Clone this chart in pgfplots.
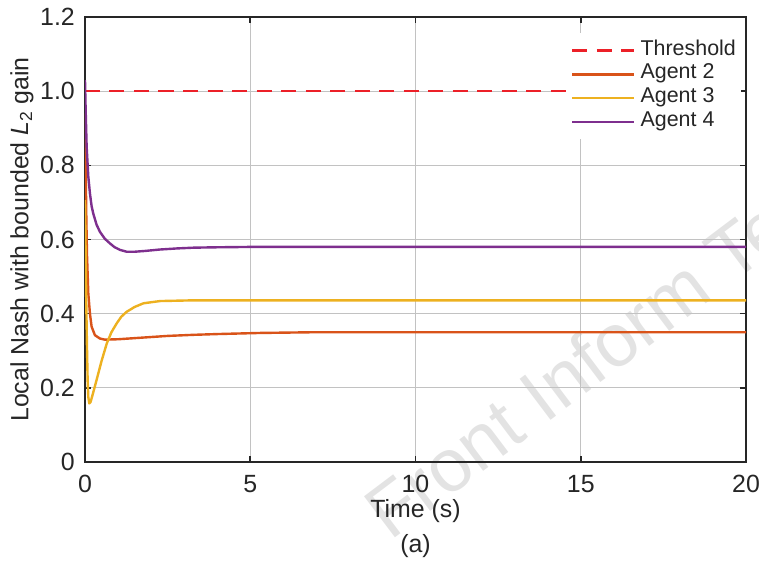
\documentclass[border=0pt]{standalone}
\usepackage{fontspec}
\setmainfont{Liberation Sans}
\usepackage{pgfplots}
\pgfplotsset{compat=1.18}

\definecolor{agenttwo}{rgb}{0.850,0.325,0.098}
\definecolor{agentthree}{rgb}{0.929,0.694,0.125}
\definecolor{agentfour}{rgb}{0.494,0.184,0.556}
\definecolor{thresh}{RGB}{236,32,40}
\definecolor{axcol}{RGB}{38,38,38}

\begin{document}
\begin{tikzpicture}
% overall canvas; the axis box has its lower-left corner at the origin
\path[use as bounding box] (-85bp,-101bp) rectangle (674bp,462bp);
% faint publisher mark behind the plot
\node[text=black!11, rotate=37, anchor=base west, inner sep=0pt,
      font=\fontsize{75}{80}\selectfont] at (305bp,-80bp)
      {Front Inform Technol Electron Eng};
\begin{axis}[
  name=ax,
  at={(0,0)}, anchor=south west, scale only axis,
  width=661bp, height=445bp,
  xmin=0, xmax=20, ymin=0, ymax=1.2,
  xtick={0,5,10,15,20}, xticklabels={0,5,10,15,20},
  ytick={0,0.2,0.4,0.6,0.8,1.0,1.2},
  yticklabels={0,0.2,0.4,0.6,0.8,1.0,1.2},
  /pgf/number format/assume math mode=true,
  grid=major, grid style={black!24, line width=1.1bp},
  axis line style={axcol, line width=2bp},
  tick align=inside, major tick length=6bp,
  tick style={axcol, line width=1.6bp},
  ticklabel style={font=\fontsize{25}{30}\selectfont, text=axcol, inner sep=0pt},
  xticklabel style={yshift=-13bp},
  yticklabel style={xshift=-10bp},
  xlabel={Time (s)},
  xlabel style={at={(rel axis cs:0.5,0)}, anchor=center, yshift=-49bp,
                inner sep=0pt, font=\fontsize{25}{30}\selectfont, text=axcol},
  ylabel={Local Nash with bounded \textit{L}\textsubscript{2} gain},
  ylabel style={at={(rel axis cs:-0.0953,0.5)}, anchor=center,
                inner sep=0pt, font=\fontsize{25}{30}\selectfont, text=axcol},
  legend style={at={(rel axis cs:0,1)}, anchor=north west,
                xshift=481bp, yshift=-16bp,
                draw=none, fill=white, inner xsep=5bp, inner ysep=6bp,
                font=\fontsize{21.5}{24}\selectfont, text=axcol,
                column sep=5bp, row sep=0.7bp,
                nodes={inner sep=0pt, text height=16bp, text depth=7bp}},
  legend cell align=left,
  legend image code/.code={\draw[#1] (0bp,0bp) -- (62bp,0bp);},
]
\addplot[thresh, line width=2.4bp, dash pattern=on 15bp off 9.5bp]
  coordinates {(0,1) (20,1)};
\addlegendentry{Threshold}

\addplot[agenttwo, line width=2.4bp, line join=round] coordinates {
  (0,0.94) (0.02,0.80) (0.04,0.66) (0.06,0.56) (0.1,0.455) (0.15,0.40)
  (0.2,0.365) (0.3,0.342) (0.45,0.333) (0.6,0.330) (1.0,0.331) (1.5,0.334)
  (2.5,0.340) (3.3,0.343) (4,0.345) (5.3,0.348) (7,0.350) (10,0.350) (20,0.350)
};
\addlegendentry{Agent 2}

\addplot[agentthree, line width=2.4bp, line join=round] coordinates {
  (0,0.706) (0.02,0.56) (0.04,0.42) (0.06,0.31) (0.08,0.22) (0.1,0.175)
  (0.13,0.158) (0.17,0.162) (0.22,0.178) (0.35,0.221) (0.5,0.272) (0.66,0.320)
  (0.8,0.350) (0.96,0.374) (1.1,0.392) (1.26,0.405) (1.5,0.418) (1.77,0.428)
  (2.27,0.434) (3.3,0.436) (5,0.436) (20,0.436)
};
\addlegendentry{Agent 3}

\addplot[agentfour, line width=2.4bp, line join=round] coordinates {
  (0,1.03) (0.02,0.95) (0.05,0.85) (0.1,0.77) (0.15,0.724) (0.2,0.69)
  (0.25,0.670) (0.35,0.640) (0.45,0.621) (0.6,0.602) (0.76,0.589) (0.9,0.579)
  (1.06,0.572) (1.26,0.567) (1.5,0.567) (1.8,0.569) (2.27,0.573) (2.8,0.576)
  (3.3,0.578) (4,0.579) (5,0.580) (7,0.580) (10,0.580) (20,0.580)
};
\addlegendentry{Agent 4}
\end{axis}
\node[font=\fontsize{25}{30}\selectfont, text=axcol, inner sep=0pt]
  at ([yshift=-84bp]ax.south) {(a)};
\end{tikzpicture}
\end{document}
